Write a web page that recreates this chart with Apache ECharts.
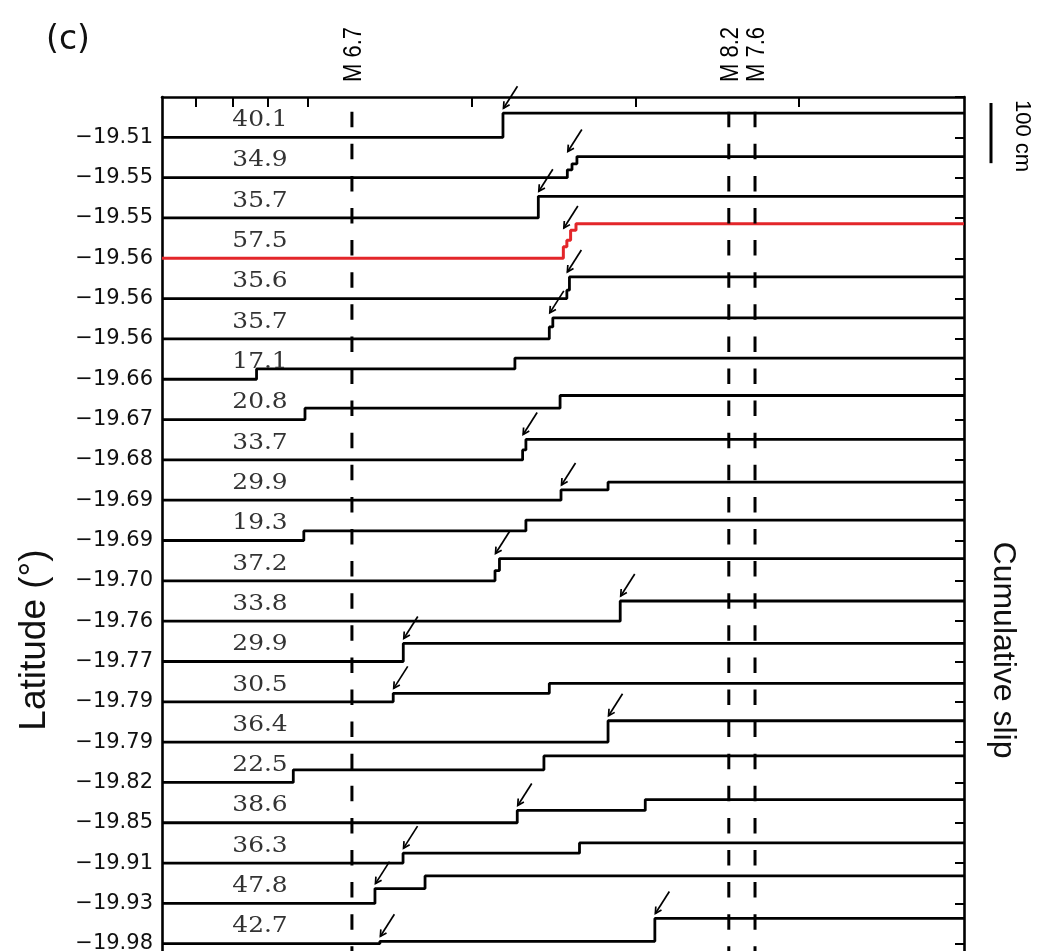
<!DOCTYPE html>
<html><head><meta charset="utf-8">
<script src="https://cdn.jsdelivr.net/npm/echarts@6/dist/echarts.min.js"></script>
<style>html,body{margin:0;padding:0;background:#fff;width:1037px;height:951px;overflow:hidden}#c{width:1037px;height:1060px}</style>
</head><body><div id="c"></div>
<script>
// ---- data ----
const latitudeLabels = ['−19.51','−19.55','−19.55','−19.56','−19.56','−19.56','−19.66','−19.67','−19.68','−19.69','−19.69','−19.70','−19.76','−19.77','−19.79','−19.79','−19.82','−19.85','−19.91','−19.93','−19.98'];
const slipLabels = ['40.1','34.9','35.7','57.5','35.6','35.7','17.1','20.8','33.7','29.9','19.3','37.2','33.8','29.9','30.5','36.4','22.5','38.6','36.3','47.8','42.7'];
// step times (days, March 2014) and slip increments (cm) per row
const stepTimes = [
  [23.34],
  [26.09, 26.29, 26.50],
  [24.85],
  [25.92, 26.07, 26.23, 26.46],
  [26.07, 26.18],
  [25.32, 25.47],
  [12.81, 23.85],
  [14.88, 25.78],
  [24.18, 24.32],
  [25.82, 27.83],
  [14.83, 24.32],
  [23.00, 23.19],
  [28.35],
  [19.08],
  [18.65, 25.32],
  [27.83],
  [14.38, 25.09],
  [23.95, 29.42],
  [19.07, 26.61],
  [17.87, 20.01],
  [18.08, 29.83]
];
const stepSlips = [
  [40.1],
  [13, 10, 12],
  [36],
  [19, 11, 16.5, 11],
  [14, 22],
  [20, 15],
  [17.1, 18],
  [19, 21],
  [16.5, 17.5],
  [17, 13],
  [16, 18],
  [17, 20],
  [33.5],
  [30],
  [14, 16.5],
  [35.5],
  [21, 23],
  [20.5, 18],
  [16.5, 17],
  [24.6, 21],
  [4, 38]
];
const arrowRows  = [1, 2, 3, 4, 5, 6, 9, 10, 12, 13, 14, 15, 16, 18, 19, 20, 21, 21];
const arrowTimes = [23.34, 26.09, 24.85, 25.92, 26.07, 25.32, 24.18, 25.82, 23.00, 28.35, 19.08, 18.65, 27.83, 23.95, 19.07, 17.87, 18.08, 29.83];
const arrowSlips = [40.1, 35, 36, 42, 36, 35, 34, 17, 37, 33.5, 30, 14, 35.5, 20.5, 16.5, 24.6, 4, 42];
const eventTimes  = [16.886, 32.99, 34.11];
const eventLabels = ['M 6.7', 'M 8.2', 'M 7.6'];
const topTickDays = [10.2, 11.8, 13.3, 15, 22, 29, 36];
const scaleBarCm = [100];

// ---- layout ----
const ROW = 67;          // cm between row baselines
const NAXIS = 23;
const X_MIN = 8.77, X_MAX = 43.04;
const Y_MIN = -NAXIS * ROW, Y_MAX = 0;

function rowSeries(i) {
  const base = -(i + 1) * ROW;
  const pts = [[X_MIN, base]];
  let cum = 0;
  stepTimes[i].forEach((t, k) => { cum += stepSlips[i][k]; pts.push([t, base + cum]); });
  pts.push([X_MAX, base + cum]);
  return {
    type: 'line', step: 'end', data: pts, showSymbol: false, symbol: 'none', silent: true,
    lineStyle: { color: i === 3 ? '#e3262a' : '#000', width: i === 3 ? 3 : 2.8 }, z: i === 3 ? 4 : 3
  };
}

const series = [];
stepTimes.forEach((_, i) => series.push(rowSeries(i)));
eventTimes.forEach(t => series.push({
  type: 'line', data: [[t, Y_MAX], [t, Y_MIN]], showSymbol: false, symbol: 'none', silent: true, z: 5,
  lineStyle: { color: '#000', width: 3, type: [15.5, 16.6], dashOffset: 17.4 }
}));
// row value labels
series.push({
  type: 'custom', coordinateSystem: 'cartesian2d', clip: false, silent: true, z: 6,
  data: slipLabels.map((s, i) => [X_MIN, -(i + 1) * ROW]),
  renderItem: (params, api) => {
    const p = api.coord([api.value(0), api.value(1)]);
    return { type: 'text', x: p[0] + 98, y: p[1] - 17, scaleX: 1.13,
      style: { text: slipLabels[params.dataIndex], font: '22px "DejaVu Serif"', fill: '#333', align: 'center', verticalAlign: 'middle' } };
  }
});
// arrows
series.push({
  type: 'custom', coordinateSystem: 'cartesian2d', clip: false, silent: true, z: 7,
  data: arrowRows.map((r, k) => [arrowTimes[k], -r * ROW + arrowSlips[k]]),
  renderItem: (params, api) => {
    const p = api.coord([api.value(0), api.value(1)]);
    const tx = p[0] + 0.5, ty = p[1] - 5;
    const sx = tx + 14, sy = ty - 22;
    const dx = tx - sx, dy = ty - sy, L = Math.hypot(dx, dy);
    const bx = -dx / L, by = -dy / L, h = 7, a = 0.5, c = Math.cos(a), s = Math.sin(a);
    const h1 = [tx + h * (bx * c - by * s), ty + h * (bx * s + by * c)];
    const h2 = [tx + h * (bx * c + by * s), ty + h * (-bx * s + by * c)];
    return { type: 'group', children: [
      { type: 'line', shape: { x1: sx, y1: sy, x2: tx, y2: ty }, style: { stroke: '#000', lineWidth: 1.7 } },
      { type: 'polyline', shape: { points: [h1, [tx, ty], h2] }, style: { stroke: '#000', lineWidth: 1.7, fill: null } }
    ] };
  }
});
// event labels
series.push({
  type: 'custom', coordinateSystem: 'cartesian2d', clip: false, silent: true, z: 7,
  data: eventTimes.map(t => [t, Y_MAX]),
  renderItem: (params, api) => {
    const p = api.coord([api.value(0), api.value(1)]);
    return { type: 'text', x: p[0] + 2, y: p[1] - 15, rotation: Math.PI / 2, scaleY: 1.2,
      style: { text: eventLabels[params.dataIndex], font: '22px "Liberation Sans"', fill: '#000', align: 'left', verticalAlign: 'middle' } };
  }
});
// scale bar
series.push({
  type: 'custom', coordinateSystem: 'cartesian2d', clip: false, silent: true, z: 7,
  data: scaleBarCm.map(v => [X_MAX, v]),
  renderItem: (params, api) => {
    const p = api.coord([X_MAX, Y_MAX]);
    const len = api.size([0, api.value(1)])[1];
    const x = p[0] + 27, y1 = p[1] + 6;
    return { type: 'group', children: [
      { type: 'line', shape: { x1: x, y1: y1, x2: x, y2: y1 + len }, style: { stroke: '#000', lineWidth: 3 } },
      { type: 'text', x: x + 31, y: y1 + len / 2 + 3, rotation: -Math.PI / 2,
        style: { text: api.value(1) + ' cm', font: '22px "Liberation Sans"', fill: '#000', align: 'center', verticalAlign: 'middle' } }
    ] };
  }
});

const chart = echarts.init(document.getElementById('c'), null, { renderer: 'canvas' });
chart.setOption({
  animation: false,
  backgroundColor: '#fff',
  grid: { left: 162, top: 97, width: 802, height: NAXIS * 40.32, containLabel: false },
  xAxis: [
    { type: 'value', position: 'bottom', min: X_MIN, max: X_MAX, show: false },
    { type: 'value', position: 'top', min: X_MIN, max: X_MAX,
      axisLine: { show: true, onZero: false, lineStyle: { color: '#000', width: 2.6 } },
      axisTick: { show: true, inside: true, length: 10, customValues: topTickDays, lineStyle: { color: '#000', width: 2 } },
      axisLabel: { show: false }, splitLine: { show: false } }
  ],
  yAxis: [
    { type: 'value', position: 'left', min: Y_MIN, max: Y_MAX, interval: ROW,
      axisLine: { show: true, onZero: false, lineStyle: { color: '#000', width: 2.6 } },
      axisTick: { show: false }, splitLine: { show: false },
      axisLabel: { formatter: v => { const k = Math.round(-v / ROW); return latitudeLabels[k - 1] || ''; },
        fontFamily: 'DejaVu Sans', fontSize: 21, color: '#111', margin: 9 } },
    { type: 'value', position: 'right', min: Y_MIN, max: Y_MAX, interval: ROW,
      axisLine: { show: true, onZero: false, lineStyle: { color: '#000', width: 2.6 } },
      axisTick: { show: true, inside: true, length: 9, lineStyle: { color: '#000', width: 2 } },
      axisLabel: { show: false }, splitLine: { show: false } }
  ],
  graphic: [
    { type: 'text', x: 68, y: 40, style: { text: '(c)', font: '33px "DejaVu Sans"', fill: '#111', align: 'center', verticalAlign: 'middle' } },
    { type: 'text', x: 35, y: 640, rotation: Math.PI / 2, style: { text: 'Latitude (°)', font: '37px "Liberation Sans"', fill: '#111', align: 'center', verticalAlign: 'middle' } },
    { type: 'text', x: 1003, y: 650, rotation: -Math.PI / 2, style: { text: 'Cumulative slip', font: '32px "Liberation Sans"', fill: '#111', align: 'center', verticalAlign: 'middle' } }
  ],
  series: series
});
</script>
</body></html>
